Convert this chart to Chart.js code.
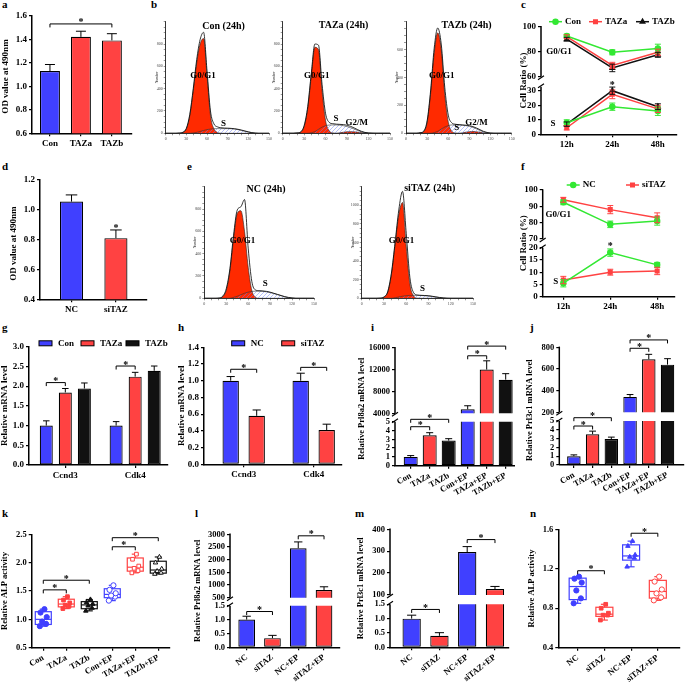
<!DOCTYPE html>
<html>
<head>
<meta charset="utf-8">
<title>TAZ figure</title>
<script src="https://cdn.jsdelivr.net/npm/chart.js@4.4.1/dist/chart.umd.min.js"></script>
<style>
  body { margin: 0; width: 685px; height: 683px; position: relative; overflow: hidden; background: #fff; }
  canvas { position: absolute; }
  .pl { position: absolute; font: bold 11px/11px 'Liberation Serif', serif; color: #000; }
</style>
</head>
<body>
<div class="pl" style="left:2px;top:-1px">a</div>
<div class="pl" style="left:151px;top:-1px">b</div>
<div class="pl" style="left:521px;top:-1px">c</div>
<div class="pl" style="left:2px;top:161px">d</div>
<div class="pl" style="left:187px;top:161px">e</div>
<div class="pl" style="left:521px;top:161px">f</div>
<div class="pl" style="left:2px;top:322px">g</div>
<div class="pl" style="left:178px;top:322px">h</div>
<div class="pl" style="left:371px;top:322px">i</div>
<div class="pl" style="left:530px;top:322px">j</div>
<div class="pl" style="left:2px;top:508px">k</div>
<div class="pl" style="left:195px;top:508px">l</div>
<div class="pl" style="left:355px;top:508px">m</div>
<div class="pl" style="left:530px;top:508px">n</div>
<script>
/* global Chart */
(function () {
    'use strict';

    // ---------- data ----------
    // a / d : OD at 490 nm
    var catA = ['Con', 'TAZa', 'TAZb'];
    var odA = [1.13, 1.42, 1.39];
    var odAErr = [0.055, 0.048, 0.057];
    var tickA = [0.6, 0.8, 1.0, 1.2, 1.4, 1.6];
    var catD = ['NC', 'siTAZ'];
    var odD = [1.055, 0.81];
    var odDErr = [0.045, 0.055];
    var tickD = [0.4, 0.6, 0.8, 1.0, 1.2];

    // b / e : flow histograms (channel 0-150, step 5)
    var flowX = [0, 5, 10, 15, 20, 25, 30, 35, 40, 45, 50, 55, 60, 65, 70, 75, 80, 85, 90, 95, 100, 105, 110, 115, 120, 125, 130, 135, 140, 145, 150];
    var flowTicks = [0, 30, 60, 90, 120, 150];
    var envCon = [0, 0, 0, 0, 2, 10, 45, 170, 400, 660, 840, 905, 560, 200, 85, 58, 50, 47, 46, 44, 41, 36, 29, 21, 13, 6, 2, 0, 0, 0, 0];
    var g1Con = [0, 0, 0, 0, 2, 8, 40, 160, 380, 630, 800, 850, 520, 160, 40, 8, 1, 0, 0, 0, 0, 0, 0, 0, 0, 0, 0, 0, 0, 0, 0];
    var sCon = [0, 0, 0, 0, 0, 0, 0, 0, 3, 8, 16, 25, 33, 38, 41, 42, 42, 42, 42, 41, 38, 33, 26, 18, 11, 5, 1, 0, 0, 0, 0];
    var envTa = [0, 0, 0, 0, 3, 12, 70, 240, 540, 800, 790, 440, 175, 98, 86, 82, 80, 78, 72, 62, 48, 32, 18, 8, 3, 1, 0, 0, 0, 0, 0];
    var g1Ta = [0, 0, 0, 0, 2, 10, 62, 225, 515, 770, 750, 385, 112, 22, 3, 0, 0, 0, 0, 0, 0, 0, 0, 0, 0, 0, 0, 0, 0, 0, 0];
    var sTa = [0, 0, 0, 0, 0, 0, 0, 0, 5, 15, 35, 55, 68, 74, 75, 75, 73, 68, 60, 50, 38, 25, 13, 5, 1, 0, 0, 0, 0, 0, 0];
    var g2Ta = [0, 0, 0, 0, 0, 0, 0, 0, 0, 0, 0, 0, 0, 0, 0, 0, 4, 10, 14, 15, 13, 9, 5, 1, 0, 0, 0, 0, 0, 0, 0];
    var envTb = [0, 0, 0, 0, 4, 15, 90, 310, 610, 755, 640, 330, 130, 75, 65, 62, 60, 58, 55, 48, 38, 26, 14, 6, 2, 0, 0, 0, 0, 0, 0];
    var g1Tb = [0, 0, 0, 0, 3, 12, 80, 290, 575, 720, 600, 280, 80, 15, 2, 0, 0, 0, 0, 0, 0, 0, 0, 0, 0, 0, 0, 0, 0, 0, 0];
    var sTb = [0, 0, 0, 0, 0, 0, 0, 0, 5, 14, 30, 45, 55, 60, 60, 60, 58, 55, 50, 42, 32, 20, 10, 3, 0, 0, 0, 0, 0, 0, 0];
    var g2Tb = [0, 0, 0, 0, 0, 0, 0, 0, 0, 0, 0, 0, 0, 0, 0, 0, 3, 8, 12, 13, 11, 7, 3, 0, 0, 0, 0, 0, 0, 0, 0];
    var envNc = [0, 0, 0, 0, 2, 18, 85, 265, 565, 790, 820, 885, 450, 150, 75, 68, 66, 62, 55, 45, 35, 25, 15, 8, 3, 0, 0, 0, 0, 0, 0];
    var g1Nc = [0, 0, 0, 0, 1, 14, 72, 245, 535, 760, 785, 600, 280, 70, 10, 0, 0, 0, 0, 0, 0, 0, 0, 0, 0, 0, 0, 0, 0, 0, 0];
    var sNc = [0, 0, 0, 0, 0, 0, 0, 0, 8, 18, 32, 45, 55, 62, 64, 64, 62, 58, 52, 43, 33, 23, 13, 6, 2, 0, 0, 0, 0, 0, 0];
    var envSi = [0, 0, 0, 0, 0, 2, 15, 70, 270, 600, 950, 1150, 700, 220, 60, 35, 32, 30, 28, 22, 15, 9, 4, 1, 0, 0, 0, 0, 0, 0, 0];
    var g1Si = [0, 0, 0, 0, 0, 1, 12, 65, 255, 580, 900, 1030, 560, 150, 25, 2, 0, 0, 0, 0, 0, 0, 0, 0, 0, 0, 0, 0, 0, 0, 0];
    var sSi = [0, 0, 0, 0, 0, 0, 0, 0, 0, 6, 14, 22, 28, 31, 32, 32, 30, 28, 24, 19, 13, 7, 3, 0, 0, 0, 0, 0, 0, 0, 0];

    // c : cell cycle, TAZ overexpression
    var times = ['12h', '24h', '48h'];
    var cG1Con = [92.5, 79.5, 82.5], cG1ConErr = [1.5, 2, 3.5];
    var cG1Ta = [92, 69, 79.5], cG1TaErr = [1.5, 2.5, 2.5];
    var cG1Tb = [90, 67, 77.5], cG1TbErr = [1.5, 3, 2];
    var cSCon = [8, 19, 16], cSConErr = [2, 2.5, 3];
    var cSTa = [4.5, 27.5, 17.5], cSTaErr = [1.5, 3, 2.5];
    var cSTb = [7, 30, 19], cSTbErr = [1.5, 2.5, 2];
    var tickCU = [60, 80, 100], tickCL = [0, 10, 20, 30];
    // f : cell cycle, TAZ knockdown
    var fG1Nc = [92.5, 79, 81], fG1NcErr = [1.5, 2, 2.5];
    var fG1Si = [94, 88, 83], fG1SiErr = [1.5, 2.5, 3];
    var fSNc = [5.5, 18, 13], fSNcErr = [1.5, 1.5, 1];
    var fSSi = [6.8, 10, 10.5], fSSiErr = [1.5, 1.2, 1.5];
    var tickFU = [70, 80, 90, 100], tickFL = [0, 5, 10, 15, 20];

    // g / h : Ccnd3, Cdk4 mRNA
    var genes = ['Ccnd3', 'Cdk4'];
    var gCon = [1.0, 1.0], gConErr = [0.12, 0.1];
    var gTa = [1.84, 2.24], gTaErr = [0.1, 0.11];
    var gTb = [1.94, 2.39], gTbErr = [0.14, 0.12];
    var tickG = [0, 0.5, 1.0, 1.5, 2.0, 2.5, 3.0];
    var hNc = [1.0, 1.0], hNcErr = [0.05, 0.09];
    var hSi = [0.58, 0.41], hSiErr = [0.07, 0.07];
    var tickH = [0, 0.2, 0.4, 0.6, 0.8, 1.0, 1.2, 1.4];

    // i / j : decidual markers with EP
    var catI = ['Con', 'TAZa', 'TAZb', 'Con+EP', 'TAZa+EP', 'TAZb+EP'];
    var prl8i = [1.0, 3.45, 2.85, 4730, 12000, 10150];
    var prl8iErr = [0.15, 0.3, 0.22, 650, 1600, 1100];
    var tickIU = [4000, 8000, 12000, 16000], tickIL = [0, 1, 2, 3, 4, 5];
    var prl3j = [1.0, 3.5, 2.95, 342, 690, 640];
    var prl3jErr = [0.15, 0.35, 0.22, 22, 45, 55];
    var tickJU = [200, 400, 600, 800], tickJL = [0, 1, 2, 3, 4, 5];

    // k : ALP activity (6 replicates per group)
    var kCon = [0.88, 0.92, 0.96, 1.04, 1.12, 1.18];
    var kTa = [1.19, 1.23, 1.25, 1.29, 1.34, 1.40];
    var kTb = [1.15, 1.20, 1.24, 1.27, 1.30, 1.35];
    var kConEp = [1.33, 1.40, 1.42, 1.46, 1.52, 1.60];
    var kTaEp = [1.82, 1.86, 1.90, 1.94, 2.06, 2.15];
    var kTbEp = [1.80, 1.82, 1.85, 1.89, 2.00, 2.10];
    var tickK = [0.5, 1.0, 1.5, 2.0, 2.5];

    // l / m : knockdown with EP
    var catL = ['NC', 'siTAZ', 'NC+EP', 'siTAZ+EP'];
    var prl8l = [1.0, 0.33, 2450, 800], prl8lErr = [0.12, 0.1, 250, 130];
    var tickLU = [500, 1000, 1500, 2000, 2500, 3000], tickLL = [0, 0.5, 1.0, 1.5];
    var prl3m = [1.0, 0.4, 296, 127], prl3mErr = [0.12, 0.11, 25, 12];
    var tickMU = [100, 200, 300, 400], tickML = [0, 0.5, 1.0, 1.5];

    // n : ALP activity, knockdown
    var nNc = [0.85, 0.90, 0.98, 1.06, 1.10, 1.12];
    var nSi = [0.68, 0.73, 0.73, 0.75, 0.80, 0.84];
    var nNcEp = [1.22, 1.31, 1.32, 1.34, 1.43, 1.48];
    var nSiEp = [0.88, 0.91, 0.95, 0.99, 1.07, 1.12];
    var tickN = [0.4, 0.8, 1.2, 1.6];

    // ---------- style ----------
    var BLUE = '#4040ff', RED = '#ff4242', BLACK = '#111111', GREEN = '#33e833', FLOWRED = '#ff2a00';
    var COL6 = [BLUE, RED, BLACK, BLUE, RED, BLACK];
    var JIT = [-0.15, 0.12, -0.05, 0.15, -0.12, 0.05];

    Chart.defaults.font.family = 'Liberation Serif';
    Chart.defaults.font.weight = 'bold';
    Chart.defaults.color = '#000';

    var HATCH = (function () {
        var c = document.createElement('canvas');
        c.width = 4; c.height = 4;
        var g = c.getContext('2d');
        g.strokeStyle = '#6f80f5'; g.lineWidth = 0.5;
        g.beginPath(); g.moveTo(-1, 5); g.lineTo(5, -1); g.stroke();
        g.beginPath(); g.moveTo(-1, 1); g.lineTo(1, -1); g.stroke();
        g.beginPath(); g.moveTo(3, 5); g.lineTo(5, 3); g.stroke();
        return g.createPattern(c, 'repeat');
    })();

    function seg(ctx, x1, y1, x2, y2) { ctx.beginPath(); ctx.moveTo(x1, y1); ctx.lineTo(x2, y2); ctx.stroke(); }
    function txt(ctx, s, x, y, size, align, base, weight) {
        ctx.font = (weight || 'bold') + ' ' + size + 'px "Liberation Serif"';
        ctx.fillStyle = '#000'; ctx.textAlign = align || 'center'; ctx.textBaseline = base || 'middle';
        ctx.fillText(s, x, y);
    }

    // error bars, brackets, broken axes, box plots, notes, legends, y titles
    var figPlugin = {
        id: 'fig',
        beforeDatasetDraw: function (chart, args, o) {
            var ds = chart.data.datasets[args.index];
            if (!o.brk || ds.type !== 'bar') { return; }
            var sc = chart.scales[ds.yAxisID], y0 = 0, y1 = chart.height;
            if (sc.id === o.brk.u) { y1 = sc.getPixelForValue(o.brk.uFrom); } else { y0 = sc.getPixelForValue(o.brk.lTo); }
            chart.ctx.save(); chart.ctx.beginPath(); chart.ctx.rect(0, y0, chart.width, y1 - y0); chart.ctx.clip();
        },
        afterDatasetDraw: function (chart, args, o) {
            if (o.brk && chart.data.datasets[args.index].type === 'bar') { chart.ctx.restore(); }
        },
        beforeDatasetsDraw: function (chart, args, o) {
            var ctx = chart.ctx;
            chart.data.datasets.forEach(function (ds) {
                if (!ds.box) { return; }
                var xs = chart.scales.x, ys = chart.scales.y;
                var v = ds.data.map(function (p) { return p.y; }).sort(function (a, b) { return a - b; });
                var q = function (p) { var h = (v.length + 1) * p - 1, i = Math.floor(h); return v[i] + (h - i) * (v[i + 1] - v[i]); };
                var py = function (val) { return ys.getPixelForValue(val); };
                var cx = xs.getPixelForValue(ds.cx), hw = o.boxW / 2, cw = 3.5;
                var lo = v[0], hi = v[v.length - 1];
                ctx.save(); ctx.strokeStyle = ds.borderColor; ctx.lineWidth = 1.2;
                ctx.strokeRect(cx - hw, py(q(0.75)), 2 * hw, py(q(0.25)) - py(q(0.75)));
                seg(ctx, cx - hw, py(q(0.5)), cx + hw, py(q(0.5)));
                seg(ctx, cx, py(q(0.75)), cx, py(hi)); seg(ctx, cx, py(q(0.25)), cx, py(lo));
                seg(ctx, cx - cw, py(hi), cx + cw, py(hi)); seg(ctx, cx - cw, py(lo), cx + cw, py(lo));
                ctx.restore();
            });
        },
        afterDatasetsDraw: function (chart, args, o) {
            var ctx = chart.ctx, ca = chart.chartArea;
            chart.data.datasets.forEach(function (ds, di) {
                if (!ds.errs) { return; }
                var meta = chart.getDatasetMeta(di), sc = chart.scales[meta.yAxisID], bar = ds.type === 'bar';
                ctx.save(); ctx.strokeStyle = bar ? '#000' : ds.borderColor; ctx.lineWidth = 1;
                meta.data.forEach(function (el, j) {
                    var v = ds.data[j].y, e = ds.errs[j];
                    if (v < sc.min || v > sc.max) { return; }
                    if (o.brk && bar && ((sc.id === o.brk.u && v < o.brk.uFrom) || (sc.id === o.brk.l && v > o.brk.lTo))) { return; }
                    var yt = sc.getPixelForValue(v + e);
                    if (bar) {
                        var w = el.width / 4;
                        seg(ctx, el.x, el.y, el.x, yt); seg(ctx, el.x - w, yt, el.x + w, yt);
                    } else {
                        var yb = sc.getPixelForValue(v - e);
                        seg(ctx, el.x, yb, el.x, yt); seg(ctx, el.x - 3, yt, el.x + 3, yt); seg(ctx, el.x - 3, yb, el.x + 3, yb);
                    }
                });
                ctx.restore();
            });
            if (o.brk) {
                var su = chart.scales[o.brk.u], sl = chart.scales[o.brk.l], x = ca.left;
                var pu = su.getPixelForValue(o.brk.uFrom), pl = sl.getPixelForValue(o.brk.lTo);
                ctx.save(); ctx.strokeStyle = '#000'; ctx.lineWidth = 1.5;
                seg(ctx, x, su.top - 0.7, x, pu); seg(ctx, x, pl, x, sl.bottom);
                ctx.lineWidth = 1.1;
                seg(ctx, x - 3, pu + 3, x + 3, pu - 1); seg(ctx, x - 3, pl + 1, x + 3, pl - 3);
                ctx.restore();
            }
            (o.brackets || []).forEach(function (b) {
                var sc = chart.scales[b.ax || 'y'];
                var px = function (a) { return typeof a === 'number' ? chart.scales.x.getPixelForValue(a) : chart.getDatasetMeta(a[0]).data[a[1]].x; };
                var x1 = px(b.a), x2 = px(b.b), y = sc.getPixelForValue(b.y);
                ctx.save(); ctx.strokeStyle = '#000'; ctx.lineWidth = 1;
                if (x1 !== x2) {
                    ctx.beginPath(); ctx.moveTo(x1, y + 3.5); ctx.lineTo(x1, y); ctx.lineTo(x2, y); ctx.lineTo(x2, y + 3.5); ctx.stroke();
                    txt(ctx, '*', (x1 + x2) / 2, y + 1.5, 10, 'center', 'alphabetic');
                } else {
                    txt(ctx, '*', x1, y + 5, 10, 'center', 'alphabetic');
                }
                ctx.restore();
            });
            (o.notes || []).forEach(function (n) {
                var sc = chart.scales[n.ax || 'y'];
                txt(ctx, n.t, chart.scales.x.getPixelForValue(n.x), sc.getPixelForValue(n.y), n.s || 9, 'center', 'middle');
            });
            if (o.legend) {
                o.legend.items.forEach(function (it) {
                    var ds = chart.data.datasets[it.ds], lx = ca.left + it.dx, ly = ca.top + o.legend.dy;
                    ctx.save();
                    if (ds.type === 'bar') {
                        ctx.fillStyle = ds.backgroundColor; ctx.fillRect(lx, ly - 2.5, 13, 5);
                        ctx.strokeStyle = '#000'; ctx.lineWidth = 1; ctx.strokeRect(lx, ly - 2.5, 13, 5);
                        txt(ctx, it.t, lx + 19, ly, 9, 'left', 'middle');
                    } else {
                        ctx.strokeStyle = ds.borderColor; ctx.fillStyle = ds.borderColor; ctx.lineWidth = 1.5;
                        seg(ctx, lx, ly, lx + 13, ly);
                        Chart.helpers.drawPoint(ctx, { pointStyle: ds.pointStyle, radius: 2.5, borderWidth: 1, rotation: 0 }, lx + 6.5, ly);
                        txt(ctx, it.t, lx + 16, ly, 9, 'left', 'middle');
                    }
                    ctx.restore();
                });
            }
            if (o.ytitle) {
                ctx.save();
                ctx.translate(ca.left - o.ytitle.dx, (ca.top + ca.bottom) / 2 + (o.ytitle.dy || 0));
                ctx.rotate(-Math.PI / 2);
                txt(ctx, o.ytitle.t, 0, 0, o.ytitle.s || 9, 'center', 'middle', o.ytitle.w);
                ctx.restore();
            }
        }
    };
    Chart.register(figPlugin);

    // ---------- helpers ----------
    var xy = function (a) { return a.map(function (v, i) { return { x: i + 1, y: v }; }); };
    var fxy = function (a) { return a.map(function (v, i) { return { x: flowX[i], y: v }; }); };

    function mount(box) {
        var c = document.createElement('canvas');
        c.width = box[2]; c.height = box[3];
        c.style.left = box[0] + 'px'; c.style.top = box[1] + 'px';
        document.body.appendChild(c);
        return c;
    }
    function fit(box, ca, fs) {
        return { yw: ca[0] - box[0], xh: box[1] + box[3] - ca[3], fs: fs || 9,
            pad: { left: 0, bottom: 0, top: ca[1] - box[1], right: box[0] + box[2] - ca[2] } };
    }
    function axisGrid() { return { drawOnChartArea: false, color: '#000', lineWidth: 1.2, tickLength: 3, offset: false }; }
    function yAx(f, min, max, ticks, dec, more) {
        return Object.assign({
            type: 'linear', axis: 'y', position: 'left', min: min, max: max,
            afterBuildTicks: function (s) { s.ticks = ticks.map(function (v) { return { value: v }; }); },
            afterFit: function (s) { s.width = f.yw; },
            ticks: { autoSkip: false, color: '#000', font: { size: f.fs, weight: 'bold' }, padding: 2, callback: function (v) { return v.toFixed(dec); } },
            grid: axisGrid(),
            border: { color: '#000', width: 1.5 }
        }, more || {});
    }
    function xAx(f, min, max, labels, rot) {
        return {
            type: 'linear', axis: 'x', min: min, max: max, offset: false,
            afterBuildTicks: function (s) { s.ticks = labels.map(function (_, i) { return { value: i + 1 }; }); },
            afterFit: function (s) { s.height = f.xh; },
            ticks: { autoSkip: false, minRotation: rot, maxRotation: rot, color: '#000', font: { size: f.fs, weight: 'bold' }, padding: 2,
                callback: function (v, i) { return labels[i]; } },
            grid: axisGrid(),
            border: { color: '#000', width: 1.5 }
        };
    }
    function make(box, ca, fs, type, datasets, scalesFn, fig) {
        var f = fit(box, ca, fs);
        return new Chart(mount(box), {
            type: type,
            data: { datasets: datasets },
            options: {
                responsive: false, animation: false, devicePixelRatio: 1, events: [],
                layout: { padding: f.pad },
                plugins: { legend: { display: false }, tooltip: { enabled: false }, fig: fig },
                scales: scalesFn(f)
            }
        });
    }
    function bars(vals, errs, color, bp, cp, yid, grouped) {
        return { type: 'bar', data: xy(vals), errs: errs, backgroundColor: color, borderColor: '#000', borderWidth: 1.2,
            borderSkipped: false, barPercentage: bp, categoryPercentage: cp || 1, yAxisID: yid || 'y', grouped: grouped !== false };
    }
    function lineSet(vals, errs, color, style, yid) {
        return { type: 'line', data: xy(vals), errs: errs, borderColor: color, backgroundColor: color, pointBackgroundColor: color,
            pointBorderColor: color, pointStyle: style, pointRadius: 2.5, borderWidth: 1.5, yAxisID: yid, clip: 6 };
    }
    function boxSet(vals, gi, color, style, open) {
        return { type: 'scatter', data: vals.map(function (v, j) { return { x: gi + 1 + JIT[j], y: v }; }), box: true, cx: gi + 1,
            borderColor: color, pointBorderColor: color, pointBackgroundColor: open ? '#fff' : color, pointStyle: style,
            pointRadius: 2.6, pointBorderWidth: 1 };
    }
    function stackY(f, id, min, max, ticks, dec, w) {
        return yAx(f, min, max, ticks, dec, { stack: id, stackWeight: w, border: { display: false } });
    }
    // lower segment listed first: Chart.js places the later one on top of the stack
    function broken(f, x, id, lo, hi) {
        return { x: x, yl: stackY(f, id, lo[0], lo[1], lo[2], lo[3], lo[4]), yu: stackY(f, id, hi[0], hi[1], hi[2], hi[3], hi[4]) };
    }

    // flow histogram
    function flow(box, ca, ymax, yTicks, env, g1, s, g2, notes) {
        var sets = [
            { type: 'line', data: fxy(env), borderColor: '#000', borderWidth: 0.8, pointRadius: 0, fill: false, order: 0, cubicInterpolationMode: 'monotone' },
            { type: 'line', data: fxy(s), borderColor: '#333', borderWidth: 0.6, backgroundColor: HATCH, fill: 'origin', pointRadius: 0, order: 1, cubicInterpolationMode: 'monotone' },
            { type: 'line', data: fxy(g1), borderColor: '#222', borderWidth: 0.6, backgroundColor: FLOWRED, fill: 'origin', pointRadius: 0, order: 2, cubicInterpolationMode: 'monotone' }
        ];
        if (g2) { sets.push({ type: 'line', data: fxy(g2), borderColor: '#222', borderWidth: 0.6, backgroundColor: FLOWRED, fill: 'origin', pointRadius: 0, order: 2, cubicInterpolationMode: 'monotone' }); }
        var small = { color: '#444', font: { size: 4, weight: 'normal' }, padding: 1 };
        var thin = { drawOnChartArea: false, color: '#333', lineWidth: 0.5, tickLength: 2 };
        make(box, ca, 9, 'line', sets, function (f) {
            return {
                x: { type: 'linear', min: 0, max: 150,
                    afterBuildTicks: function (sc) { var t = []; for (var v = 0; v <= 150; v += 10) { t.push({ value: v }); } sc.ticks = t; },
                    afterFit: function (sc) { sc.height = f.xh; },
                    ticks: Object.assign({ autoSkip: false, minRotation: 0, maxRotation: 0, callback: function (v) { return flowTicks.indexOf(v) >= 0 ? String(v) : ''; } }, small),
                    grid: thin, border: { color: '#000', width: 0.8 } },
                y: { type: 'linear', min: 0, max: ymax,
                    afterBuildTicks: function (sc) { var t = []; for (var v = 0; v <= ymax; v += 50) { t.push({ value: v }); } sc.ticks = t; },
                    afterFit: function (sc) { sc.width = f.yw; },
                    ticks: Object.assign({ autoSkip: false, callback: function (v) { return yTicks.indexOf(v) >= 0 ? String(v) : ''; } }, small),
                    grid: thin, border: { color: '#000', width: 0.8 } }
            };
        }, { notes: notes, ytitle: { t: 'Number', dx: 9, s: 3.5, w: 'normal' } });
    }

    // ---------- row 1 ----------
    make([0, 4, 145, 162], [32, 15.7, 132, 133.3], 9, 'bar',
        [bars(odA, odAErr, [BLUE, RED, RED], 0.645)],
        function (f) { return { x: xAx(f, 0.42, 3.65, catA, 0), y: yAx(f, 0.6, 1.6, tickA, 1) }; },
        { ytitle: { t: 'OD value at 490nm', dx: 26.7, dy: 2 }, brackets: [{ a: 1, b: 3, y: 1.53 }] });

    flow([148, 14, 125, 130], [165.7, 21.7, 270, 133.3], 1000, [0, 200, 400, 600, 800], envCon, g1Con, sCon, null,
        [{ t: 'Con (24h)', x: 84, y: 960, s: 10 }, { t: 'G0/G1', x: 54, y: 516 }, { t: 'S', x: 84, y: 83 }]);
    flow([270, 14, 125, 130], [282.7, 21.7, 390, 133.3], 1000, [0, 200, 400, 600, 800], envTa, g1Ta, sTa, g2Ta,
        [{ t: 'TAZa (24h)', x: 85, y: 970, s: 10 }, { t: 'G0/G1', x: 47.5, y: 516 }, { t: 'S', x: 74.5, y: 134 }, { t: 'G2/M', x: 103.4, y: 95 }]);
    flow([393, 14, 125, 130], [406, 21.7, 511.7, 133.3], 800, [0, 200, 400, 600], envTb, g1Tb, sTb, g2Tb,
        [{ t: 'TAZb (24h)', x: 86, y: 776, s: 10 }, { t: 'G0/G1', x: 50.7, y: 413 }, { t: 'S', x: 72, y: 43 }, { t: 'G2/M', x: 100, y: 76 }]);

    make([518, 0, 167, 160], [541, 26.7, 677, 134.3], 9, 'line',
        [lineSet(cG1Con, cG1ConErr, GREEN, 'circle', 'yu'), lineSet(cG1Ta, cG1TaErr, RED, 'rect', 'yu'), lineSet(cG1Tb, cG1TbErr, BLACK, 'triangle', 'yu'),
         lineSet(cSCon, cSConErr, GREEN, 'circle', 'yl'), lineSet(cSTa, cSTaErr, RED, 'rect', 'yl'), lineSet(cSTb, cSTbErr, BLACK, 'triangle', 'yl')],
        function (f) { return broken(f, xAx(f, 0.435, 3.42, times, 0), 'c', [0, 35.3, tickCL, 0, 51.3], [54.96, 100, tickCU, 0, 56.3]); },
        { ytitle: { t: 'Cell Ratio (%)', dx: 17 }, brk: { u: 'yu', l: 'yl', uFrom: 60, lTo: 32.7 },
          brackets: [{ a: 2, b: 2, y: 35.5, ax: 'yl' }],
          notes: [{ t: 'G0/G1', x: 0.83, y: 80, ax: 'yu' }, { t: 'S', x: 0.70, y: 7.1, ax: 'yl' }],
          legend: { dy: -5, items: [{ ds: 0, dx: 8, t: 'Con' }, { ds: 1, dx: 48, t: 'TAZa' }, { ds: 2, dx: 95, t: 'TAZb' }] } });

    // ---------- row 2 ----------
    make([0, 166, 150, 152], [40, 180, 147, 299.3], 9, 'bar',
        [bars(odD, odDErr, [BLUE, RED], 0.52)],
        function (f) { return { x: xAx(f, 0.29, 2.70, catD, 0), y: yAx(f, 0.4, 1.2, tickD, 1) }; },
        { ytitle: { t: 'OD value at 490nm', dx: 26.7, dy: 4 }, brackets: [{ a: 2, b: 2, y: 0.89 }] });

    flow([188, 176, 130, 132], [204.3, 186.7, 315, 298.3], 1000, [0, 200, 400, 600, 800], envNc, g1Nc, sNc, null,
        [{ t: 'NC (24h)', x: 84.5, y: 975, s: 10 }, { t: 'G0/G1', x: 52.4, y: 516 }, { t: 'S', x: 83.2, y: 128 }]);
    flow([345, 176, 132, 132], [361.7, 186.7, 473.3, 298.3], 1200, [0, 200, 400, 600, 800, 1000], envSi, g1Si, sSi, null,
        [{ t: 'siTAZ (24h)', x: 91.8, y: 1185, s: 10 }, { t: 'G0/G1', x: 53.8, y: 618 }, { t: 'S', x: 82, y: 108 }]);

    make([518, 166, 167, 150], [542.7, 190, 675, 296.7], 9, 'line',
        [lineSet(fG1Nc, fG1NcErr, GREEN, 'circle', 'yu'), lineSet(fG1Si, fG1SiErr, RED, 'rect', 'yu'),
         lineSet(fSNc, fSNcErr, GREEN, 'circle', 'yl'), lineSet(fSSi, fSSiErr, RED, 'rect', 'yl')],
        function (f) { return broken(f, xAx(f, 0.56, 3.38, times, 0), 'f', [0, 21.8, tickFL, 0, 53.4], [67.4, 100, tickFU, 0, 53.3]); },
        { ytitle: { t: 'Cell Ratio (%)', dx: 18.7 }, brk: { u: 'yu', l: 'yl', uFrom: 70, lTo: 20 },
          brackets: [{ a: 2, b: 2, y: 21.5, ax: 'yl' }],
          notes: [{ t: 'G0/G1', x: 0.89, y: 84.7, ax: 'yu' }, { t: 'S', x: 0.84, y: 6.1, ax: 'yl' }],
          legend: { dy: -5, items: [{ ds: 0, dx: 24, t: 'NC' }, { ds: 1, dx: 83.3, t: 'siTAZ' }] } });

    // ---------- row 3 ----------
    make([0, 320, 172, 170], [29, 346.7, 168, 465], 9, 'bar',
        [bars(gCon, gConErr, BLUE, 0.684, 0.818), bars(gTa, gTaErr, RED, 0.684, 0.818), bars(gTb, gTbErr, BLACK, 0.684, 0.818)],
        function (f) { return { x: xAx(f, 0.48, 2.47, genes, 0), y: yAx(f, 0, 3, tickG, 1) }; },
        { ytitle: { t: 'Relative mRNA level', dx: 24 },
          legend: { dy: -3.4, items: [{ ds: 0, dx: 10, t: catA[0] }, { ds: 1, dx: 52, t: catA[1] }, { ds: 2, dx: 97, t: catA[2] }] },
          brackets: [{ a: [0, 0], b: [1, 0], y: 2.09 }, { a: [0, 1], b: [1, 1], y: 2.51 }] });

    make([175, 320, 170, 170], [204, 347.3, 341.7, 464.3], 9, 'bar',
        [bars(hNc, hNcErr, BLUE, 0.63, 0.743), bars(hSi, hSiErr, RED, 0.63, 0.743)],
        function (f) { return { x: xAx(f, 0.433, 2.4, genes, 0), y: yAx(f, 0, 1.4, tickH, 1) }; },
        { ytitle: { t: 'Relative mRNA level', dx: 22.3 },
          legend: { dy: -4, items: [{ ds: 0, dx: 27.7, t: catD[0] }, { ds: 1, dx: 77.7, t: catD[1] }] },
          brackets: [{ a: [0, 0], b: [1, 0], y: 1.137 }, { a: [0, 1], b: [1, 1], y: 1.16 }] });

    make([345, 320, 170, 180], [395, 347.7, 515, 465.7], 8.5, 'bar',
        [bars(prl8i, prl8iErr, COL6, 0.737, 1, 'yu', false), bars(prl8i, prl8iErr, COL6, 0.737, 1, 'yl', false)],
        function (f) { return broken(f, xAx(f, 0.174, 6.49, catI, 30), 'i', [0, 5.477, tickIL, 0, 48.2], [3232, 16000, tickIU, 0, 69.8]); },
        { ytitle: { t: 'Relative Prl8a2 mRNA level', dx: 33, dy: 2, s: 8.5 }, brk: { u: 'yu', l: 'yl', uFrom: 4000, lTo: 5 },
          brackets: [{ a: 1, b: 2, y: 4.43, ax: 'yl' }, { a: 1, b: 3, y: 5.27, ax: 'yl' }, { a: 4, b: 5, y: 14520, ax: 'yu' }, { a: 4, b: 6, y: 16290, ax: 'yu' }] });

    make([515, 320, 170, 180], [559.3, 347.3, 684, 465], 8.5, 'bar',
        [bars(prl3j, prl3jErr, COL6, 0.72, 1, 'yu', false), bars(prl3j, prl3jErr, COL6, 0.72, 1, 'yl', false)],
        function (f) { return broken(f, xAx(f, 0.222, 6.88, catI, 30), 'j', [0, 5.49, tickJL, 0, 48.3], [159.4, 800, tickJU, 0, 69.4]); },
        { ytitle: { t: 'Relative Prl3c1 mRNA level', dx: 29.6, dy: 4, s: 8.5 }, brk: { u: 'yu', l: 'yl', uFrom: 200, lTo: 5 },
          brackets: [{ a: 1, b: 2, y: 4.43, ax: 'yl' }, { a: 1, b: 3, y: 5.375, ax: 'yl' }, { a: 4, b: 5, y: 791, ax: 'yu' }, { a: 4, b: 6, y: 868, ax: 'yu' }] });

    // ---------- row 4 ----------
    make([0, 505, 175, 178], [31.7, 534.3, 170, 647.7], 8.5, 'scatter',
        [boxSet(kCon, 0, BLUE, 'circle', false), boxSet(kTa, 1, RED, 'rect', false), boxSet(kTb, 2, BLACK, 'triangle', false),
         boxSet(kConEp, 3, BLUE, 'circle', true), boxSet(kTaEp, 4, RED, 'rect', true), boxSet(kTbEp, 5, BLACK, 'triangle', true)],
        function (f) { return { x: xAx(f, 0.496, 6.51, catI, 30), y: yAx(f, 0.5, 2.5, tickK, 1) }; },
        { boxW: 16, ytitle: { t: 'Relative ALP activity', dx: 26.7, s: 8.5 },
          brackets: [{ a: 1, b: 2, y: 1.52 }, { a: 1, b: 3, y: 1.69 }, { a: 4, b: 5, y: 2.28 }, { a: 4, b: 6, y: 2.44 }] });

    make([180, 505, 165, 178], [230, 534.3, 340, 647.3], 8.5, 'bar',
        [bars(prl8l, prl8lErr, [BLUE, RED, BLUE, RED], 0.647, 1, 'yu', false), bars(prl8l, prl8lErr, [BLUE, RED, BLUE, RED], 0.647, 1, 'yl', false)],
        function (f) { return broken(f, xAx(f, 0.353, 4.62, catL, 38), 'l', [0, 1.644, tickLL, 1, 45.6], [342, 3000, tickLU, 0, 67.4]); },
        { ytitle: { t: 'Relative Prl8a2 mRNA level', dx: 32.5, s: 8.5 }, brk: { u: 'yu', l: 'yl', uFrom: 500, lTo: 1.5 },
          brackets: [{ a: 1, b: 2, y: 1.29, ax: 'yl' }, { a: 3, b: 4, y: 2940, ax: 'yu' }] });

    make([345, 505, 168, 178], [390, 529.3, 508.3, 647.3], 8.5, 'bar',
        [bars(prl3m, prl3mErr, [BLUE, RED, BLUE, RED], 0.66, 1, 'yu', false), bars(prl3m, prl3mErr, [BLUE, RED, BLUE, RED], 0.66, 1, 'yl', false)],
        function (f) { return broken(f, xAx(f, 0.22, 4.48, catL, 38), 'm', [0, 1.66, tickML, 1, 47.6], [78.5, 400, tickMU, 0, 70.4]); },
        { ytitle: { t: 'Relative Prl3c1 mRNA level', dx: 29, s: 8.5 }, brk: { u: 'yu', l: 'yl', uFrom: 100, lTo: 1.5 },
          brackets: [{ a: 1, b: 2, y: 1.32, ax: 'yl' }, { a: 3, b: 4, y: 353, ax: 'yu' }] });

    make([515, 505, 170, 178], [558.3, 529.3, 684, 647.7], 8.5, 'scatter',
        [boxSet(nNc, 0, BLUE, 'circle', false), boxSet(nSi, 1, RED, 'rect', false),
         boxSet(nNcEp, 2, BLUE, 'triangle', false), boxSet(nSiEp, 3, RED, 'circle', true)],
        function (f) { return { x: xAx(f, 0.275, 4.83, catL, 38), y: yAx(f, 0.4, 1.6, tickN, 1) }; },
        { boxW: 17, ytitle: { t: 'Relative ALP activity', dx: 26.6, s: 8.5 },
          brackets: [{ a: 1, b: 2, y: 1.18 }, { a: 3, b: 4, y: 1.56 }] });
})();
</script>
</body>
</html>
